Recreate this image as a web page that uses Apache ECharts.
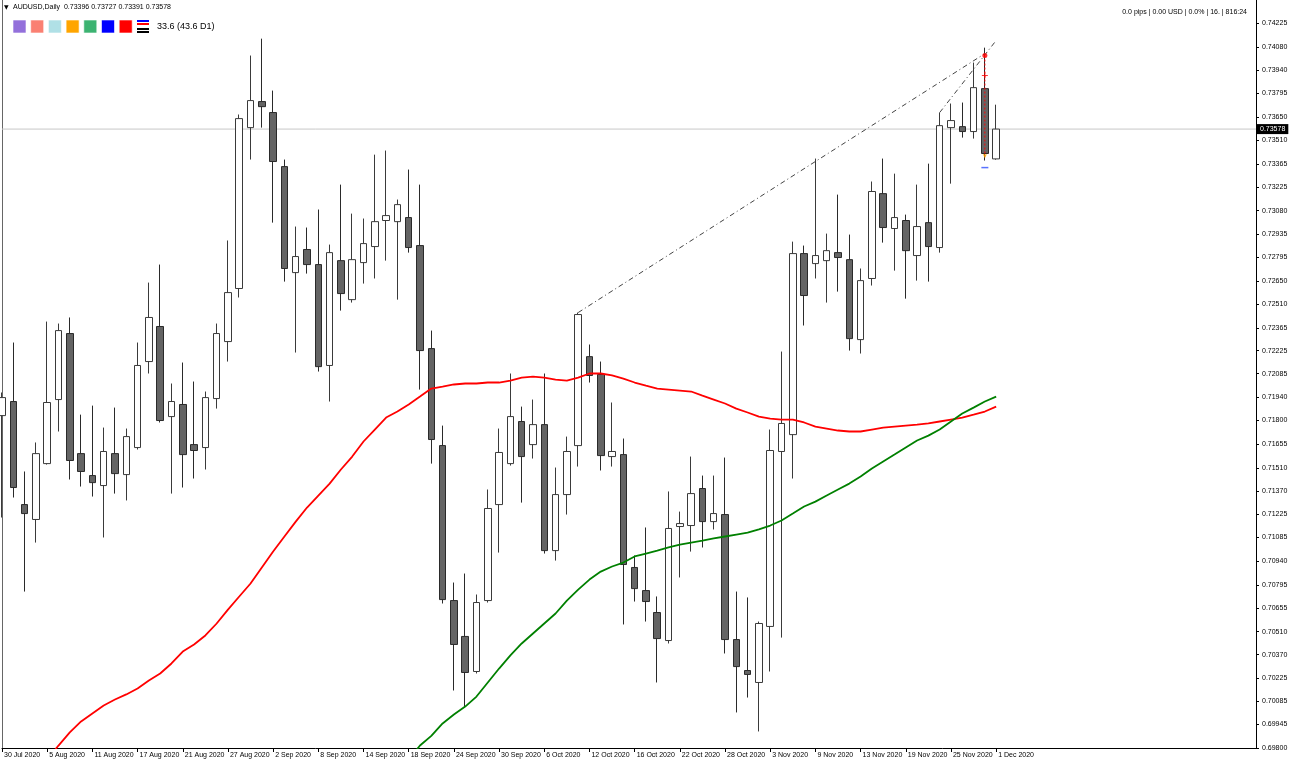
<!DOCTYPE html>
<html><head><meta charset="utf-8">
<script src="https://cdn.jsdelivr.net/npm/echarts@6/dist/echarts.min.js"></script>
<style>html,body{margin:0;padding:0;background:#fff}#c{width:1290px;height:765px}</style>
</head><body><div id="c"></div>
<script>
const symbolName = 'AUDUSD,Daily';
const dates = ['30 Jul 2020','31 Jul 2020','3 Aug 2020','4 Aug 2020','5 Aug 2020','6 Aug 2020','7 Aug 2020','10 Aug 2020','11 Aug 2020','12 Aug 2020',
'13 Aug 2020','14 Aug 2020','17 Aug 2020','18 Aug 2020','19 Aug 2020','20 Aug 2020','21 Aug 2020','24 Aug 2020','25 Aug 2020','26 Aug 2020',
'27 Aug 2020','28 Aug 2020','31 Aug 2020','1 Sep 2020','2 Sep 2020','3 Sep 2020','4 Sep 2020','7 Sep 2020','8 Sep 2020','9 Sep 2020',
'10 Sep 2020','11 Sep 2020','14 Sep 2020','15 Sep 2020','16 Sep 2020','17 Sep 2020','18 Sep 2020','21 Sep 2020','22 Sep 2020','23 Sep 2020',
'24 Sep 2020','25 Sep 2020','28 Sep 2020','29 Sep 2020','30 Sep 2020','1 Oct 2020','2 Oct 2020','5 Oct 2020','6 Oct 2020','7 Oct 2020',
'8 Oct 2020','9 Oct 2020','12 Oct 2020','13 Oct 2020','14 Oct 2020','15 Oct 2020','16 Oct 2020','19 Oct 2020','20 Oct 2020','21 Oct 2020',
'22 Oct 2020','23 Oct 2020','26 Oct 2020','27 Oct 2020','28 Oct 2020','29 Oct 2020','30 Oct 2020','2 Nov 2020','3 Nov 2020','4 Nov 2020',
'5 Nov 2020','6 Nov 2020','9 Nov 2020','10 Nov 2020','11 Nov 2020','12 Nov 2020','13 Nov 2020','16 Nov 2020','17 Nov 2020','18 Nov 2020',
'19 Nov 2020','20 Nov 2020','23 Nov 2020','24 Nov 2020','25 Nov 2020','26 Nov 2020','27 Nov 2020','30 Nov 2020','1 Dec 2020'];

const opens = [0.71829,0.71915,0.71286,0.71195,0.71536,0.71927,0.72330,0.71597,0.71463,0.71402,
0.71597,0.71469,0.71634,0.72159,0.72373,0.71823,0.71897,0.71652,0.71634,0.71933,
0.72281,0.72605,0.73587,0.73746,0.73679,0.73349,0.72702,0.72843,0.72751,0.72135,
0.72775,0.72537,0.72763,0.72861,0.73020,0.73013,0.73038,0.72867,0.72238,0.71646,
0.70700,0.70481,0.70267,0.70700,0.71286,0.71536,0.71793,0.71652,0.71774,0.71005,
0.71347,0.71646,0.72189,0.72080,0.71579,0.71591,0.70902,0.70761,0.70627,0.70456,
0.71152,0.71158,0.71384,0.71182,0.71225,0.70462,0.70273,0.70200,0.70542,0.71610,
0.71713,0.72818,0.72757,0.72775,0.72824,0.72781,0.72293,0.72666,0.73184,0.72971,
0.73020,0.72806,0.73007,0.72855,0.73587,0.73593,0.73563,0.73825,0.73396];
const highs = [0.71970,0.72275,0.71488,0.71665,0.72403,0.72391,0.72428,0.71835,0.71890,0.71756,
0.71878,0.71750,0.72275,0.72641,0.72751,0.72025,0.72153,0.72037,0.71976,0.72391,
0.72898,0.73667,0.74027,0.74130,0.73813,0.73392,0.72983,0.72977,0.73087,0.72873,
0.73239,0.73062,0.73032,0.73422,0.73447,0.73148,0.73331,0.73239,0.72348,0.71768,
0.70810,0.70865,0.70737,0.71378,0.71750,0.72086,0.71884,0.71927,0.72086,0.71512,
0.71701,0.72458,0.72263,0.72159,0.71909,0.71689,0.70975,0.71146,0.70725,0.71366,
0.71243,0.71579,0.71463,0.71463,0.71573,0.70755,0.70719,0.70572,0.71744,0.72220,
0.72891,0.72867,0.73398,0.72940,0.73178,0.72934,0.72727,0.73258,0.73398,0.73306,
0.73056,0.73239,0.73367,0.73679,0.73734,0.73740,0.73984,0.74075,0.73727];
const lows = [0.71207,0.71329,0.70755,0.71054,0.71530,0.71732,0.71439,0.71396,0.71335,0.71085,
0.71353,0.71311,0.71622,0.72086,0.71787,0.71353,0.71390,0.71445,0.71500,0.71872,
0.72159,0.72550,0.73392,0.73587,0.73007,0.72647,0.72214,0.72696,0.72098,0.71915,
0.72470,0.72519,0.72635,0.72666,0.72775,0.72537,0.72824,0.71988,0.71536,0.70682,
0.70151,0.70047,0.70255,0.70688,0.70993,0.71524,0.71298,0.71567,0.70987,0.70944,
0.71225,0.71518,0.72031,0.71494,0.71518,0.70554,0.70694,0.70572,0.70200,0.70438,
0.70841,0.70999,0.71024,0.71134,0.70377,0.70017,0.70108,0.69901,0.70267,0.70474,
0.71445,0.72379,0.72666,0.72519,0.72586,0.72226,0.72208,0.72623,0.72885,0.72714,
0.72543,0.72653,0.72647,0.72824,0.73245,0.73526,0.73520,0.73386,0.73391];
const closes = [0.71939,0.71390,0.71231,0.71597,0.71909,0.72348,0.71555,0.71488,0.71420,0.71610,
0.71475,0.71701,0.72135,0.72428,0.71799,0.71915,0.71591,0.71616,0.71939,0.72330,
0.72580,0.73642,0.73752,0.73715,0.73380,0.72727,0.72800,0.72751,0.72128,0.72824,
0.72574,0.72781,0.72879,0.73013,0.73050,0.73117,0.72855,0.72226,0.71683,0.70706,
0.70432,0.70261,0.70688,0.71262,0.71604,0.71823,0.71579,0.71774,0.71005,0.71347,
0.71610,0.72446,0.72074,0.71585,0.71610,0.70920,0.70773,0.70694,0.70468,0.71140,
0.71170,0.71353,0.71182,0.71231,0.70462,0.70297,0.70249,0.70560,0.71616,0.71781,
0.72818,0.72562,0.72806,0.72836,0.72794,0.72299,0.72653,0.73197,0.72977,0.73038,
0.72836,0.72983,0.72861,0.73599,0.73630,0.73563,0.73831,0.73429,0.73578];

const maRed = [null,null,null,null,0.69730,0.69815,0.69895,0.69962,0.70011,0.70059,
0.70096,0.70127,0.70163,0.70212,0.70255,0.70316,0.70389,0.70432,0.70487,0.70560,
0.70645,0.70725,0.70804,0.70902,0.70999,0.71091,0.71182,0.71268,0.71341,0.71414,
0.71500,0.71579,0.71671,0.71744,0.71817,0.71854,0.71897,0.71945,0.71994,0.72006,
0.72019,0.72025,0.72025,0.72031,0.72031,0.72043,0.72061,0.72067,0.72061,0.72049,
0.72043,0.72061,0.72086,0.72086,0.72074,0.72055,0.72031,0.72012,0.71994,0.71988,
0.71982,0.71976,0.71951,0.71927,0.71903,0.71872,0.71848,0.71823,0.71811,0.71805,
0.71805,0.71787,0.71762,0.71750,0.71738,0.71732,0.71732,0.71744,0.71756,0.71762,
0.71768,0.71774,0.71781,0.71793,0.71805,0.71817,0.71835,0.71854,0.71884];
const maGreen = [null,null,null,null,null,null,null,null,null,null,
null,null,null,null,null,null,null,null,null,null,
null,null,null,null,null,null,null,null,null,null,
null,null,null,null,null,null,0.69730,0.69815,0.69874,0.69950,
0.70004,0.70053,0.70114,0.70200,0.70285,0.70365,0.70438,0.70499,0.70560,0.70621,
0.70700,0.70767,0.70828,0.70877,0.70908,0.70932,0.70969,0.70987,0.71005,0.71024,
0.71042,0.71054,0.71066,0.71079,0.71091,0.71103,0.71115,0.71134,0.71158,0.71189,
0.71231,0.71274,0.71304,0.71341,0.71378,0.71414,0.71457,0.71506,0.71549,0.71591,
0.71634,0.71677,0.71707,0.71744,0.71793,0.71842,0.71878,0.71915,0.71945];

const yTickLabels = ['0.74225','0.74080','0.73940','0.73795','0.73650','0.73510','0.73365','0.73225','0.73080','0.72935',
'0.72795','0.72650','0.72510','0.72365','0.72225','0.72085','0.71940','0.71800','0.71655','0.71510',
'0.71370','0.71225','0.71085','0.70940','0.70795','0.70655','0.70510','0.70370','0.70225','0.70085',
'0.69945','0.69800'];
const yTickValues = yTickLabels.map(Number);

const trendLine1 = [[51, 0.72458], [87, 0.74039]];
const trendLine2 = [[83, 0.73679], [88, 0.74119]];
const tradeOpen = [[87, 0.74027]];
const tradeStopMark = [[87, 0.73905]];
const tradeDrop = [[87, 0.74027], [87, 0.73412]];
const tradeClose = [[87, 0.73412]];
const tradeTarget = [[87, 0.73343]];

const currentPrice = 0.73578;
const indicatorText = '33.6 (43.6 D1)';
const statusText = '0.0 pips | 0.00 USD | 0.0% | 16. | 816:24';
const swatchColors = ['#9370DB','#FA8072','#B0E0E6','#FFA500','#3CB371','#0000FF','#FF0000'];
const shiftBars = 23;

const cats = dates.concat(Array.from({length: shiftBars}, (_, i) => '_' + i));
const candles = dates.map((d, i) => [opens[i], closes[i], lows[i], highs[i]]);
const last = dates.length - 1;
const headerText = symbolName + '  ' + [opens[last], highs[last], lows[last], closes[last]].map(v => v.toFixed(5)).join(' ');
const priceLine = [[0, currentPrice], [cats.length - 1, currentPrice]];

const FONT = '"Liberation Sans", Arial, sans-serif';
const chart = echarts.init(document.getElementById('c'), null, {renderer: 'canvas'});

const graphic = [
  {type: 'text', x: 4, y: 7, style: {text: '\u25BC', font: '6px "DejaVu Sans"', fill: '#000', verticalAlign: 'middle'}},
  {type: 'text', x: 13, y: 7, style: {text: headerText, font: '7px ' + FONT, fill: '#000', verticalAlign: 'middle'}},
  {type: 'text', x: 1247, y: 12, style: {text: statusText, font: '7px ' + FONT, fill: '#000', align: 'right', verticalAlign: 'middle'}},
  {type: 'text', x: 157, y: 27, style: {text: indicatorText, font: '9px ' + FONT, fill: '#000', verticalAlign: 'middle'}},
  {type: 'rect', shape: {x: 137, y: 20, width: 12, height: 2}, style: {fill: '#0000FF'}},
  {type: 'rect', shape: {x: 137, y: 23, width: 12, height: 2}, style: {fill: '#FF0000'}},
  {type: 'rect', shape: {x: 137, y: 28, width: 12, height: 2}, style: {fill: '#000'}},
  {type: 'rect', shape: {x: 137, y: 31, width: 12, height: 2}, style: {fill: '#000'}}
];
swatchColors.forEach((c, i) => {
  graphic.push({type: 'rect', shape: {x: 13 + i * 17.7, y: 20, width: 13, height: 13}, style: {fill: c, stroke: 'rgba(255,255,255,0.6)', lineWidth: 1}});
});

const option = {
  animation: false,
  backgroundColor: '#fff',
  graphic: graphic,
  grid: {left: 2, right: 34, top: 0, bottom: 17, containLabel: false, outerBoundsMode: 'none'},
  xAxis: {
    type: 'category', data: cats, boundaryGap: false,
    axisLine: {onZero: false, lineStyle: {color: '#000', width: 1}},
    axisTick: {show: true, length: 4, lineStyle: {color: '#000'},
      interval: (idx, val) => idx % 4 === 0 && val.charAt(0) !== '_'},
    axisLabel: {interval: 3, align: 'left', margin: 4, padding: [0, 0, 0, 2], fontSize: 7, fontFamily: FONT, color: '#000',
      formatter: v => v.charAt(0) === '_' ? '' : v},
    splitLine: {show: false}
  },
  yAxis: [{
    type: 'value', position: 'right', min: 0.698, max: 0.74366,
    axisLine: {show: true, lineStyle: {color: '#000'}},
    axisTick: {show: true, length: 3, customValues: yTickValues, lineStyle: {color: '#000'}},
    axisLabel: {customValues: yTickValues, margin: 6, fontSize: 7, fontFamily: FONT, color: '#000',
      formatter: v => { const k = yTickValues.indexOf(v); return k >= 0 ? yTickLabels[k] : ''; }},
    splitLine: {show: false}
  }, {
    type: 'value', position: 'left', min: 0.698, max: 0.74366,
    axisLine: {show: true, lineStyle: {color: '#666'}},
    axisTick: {show: false}, axisLabel: {show: false}, splitLine: {show: false}
  }],
  series: [
    {
      type: 'line', data: priceLine, symbol: 'none', z: 1, silent: true,
      lineStyle: {color: '#c8c8c8', width: 1},
      endLabel: {show: true, formatter: currentPrice.toFixed(5), backgroundColor: '#000', color: '#fff', fontSize: 7,
        fontFamily: FONT, padding: [2, 3, 1, 3], distance: 1}
    },
    {
      type: 'candlestick', data: candles, barWidth: 7, z: 2,
      itemStyle: {color: '#ffffff', color0: '#646464', borderColor: '#3a3a3a', borderColor0: '#2a2a2a', borderWidth: 1}
    },
    {type: 'line', data: maRed, symbol: 'none', z: 4, lineStyle: {color: '#ff0000', width: 1.8}, silent: true},
    {type: 'line', data: maGreen, symbol: 'none', z: 4, lineStyle: {color: '#008000', width: 1.8}, silent: true},
    {type: 'line', data: trendLine1, symbol: 'none', z: 5, lineStyle: {color: '#444', width: 1, type: [5, 3, 1, 3]}, silent: true},
    {type: 'line', data: trendLine2, symbol: 'none', z: 5, lineStyle: {color: '#444', width: 1, type: [5, 3, 1, 3]}, silent: true},
    {type: 'line', data: tradeDrop, symbol: 'none', z: 6, lineStyle: {color: '#ff0000', width: 1, type: [2, 2]}, silent: true},
    {type: 'scatter', data: tradeOpen, symbol: 'circle', symbolSize: 5, z: 7, itemStyle: {color: '#ff0000'}, silent: true},
    {type: 'scatter', data: tradeStopMark, symbol: 'path://M0,5L10,5M5,0L5,10', symbolSize: 6, z: 7,
      itemStyle: {color: 'none', borderColor: '#ff0000', borderWidth: 1}, silent: true},
    {type: 'scatter', data: tradeClose, symbol: 'triangle', symbolSize: 4, symbolRotate: 180, z: 7, itemStyle: {color: '#FFA500'}, silent: true},
    {type: 'scatter', data: tradeTarget, symbol: 'rect', symbolSize: [7, 1.5], z: 7, itemStyle: {color: '#3050ff'}, silent: true}
  ]
};
chart.setOption(option);
</script></body></html>
